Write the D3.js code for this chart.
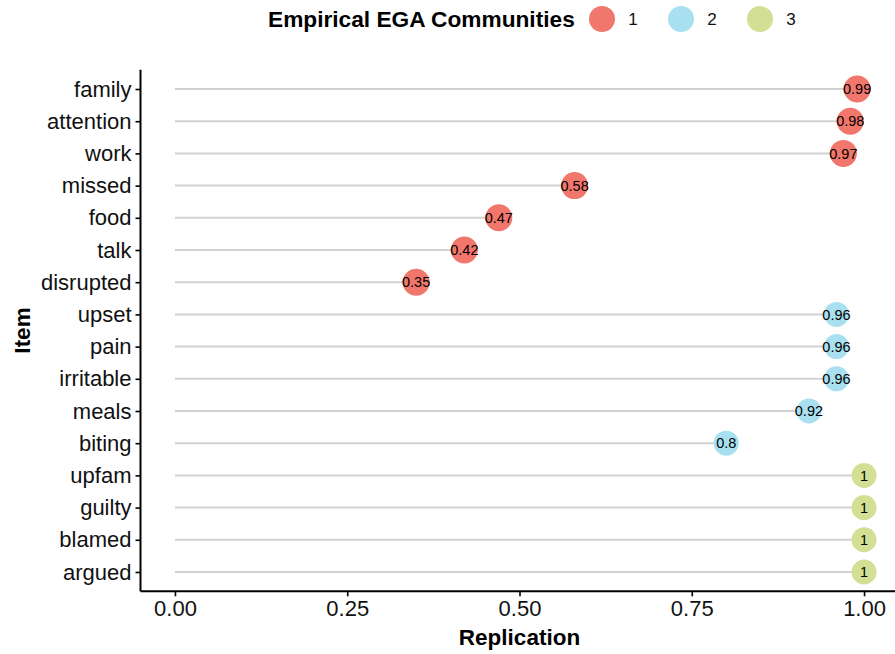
<!DOCTYPE html>
<html>
<head>
<meta charset="utf-8">
<script src="https://cdn.jsdelivr.net/npm/d3@7"></script>
<style>
  html, body { margin: 0; padding: 0; background: #ffffff; }
  svg { display: block; font-family: "Liberation Sans", Arial, sans-serif; }
</style>
</head>
<body>
<svg id="chart" width="895" height="654"></svg>
<script>
// Items, top to bottom
const items = ["family", "attention", "work", "missed", "food", "talk", "disrupted",
  "upset", "pain", "irritable", "meals", "biting",
  "upfam", "guilty", "blamed", "argued"];
// Replication proportion of each item
const replication = [0.99, 0.98, 0.97, 0.58, 0.47, 0.42, 0.35,
  0.96, 0.96, 0.96, 0.92, 0.8,
  1, 1, 1, 1];
// Empirical EGA community of each item
const community = [1, 1, 1, 1, 1, 1, 1, 2, 2, 2, 2, 2, 3, 3, 3, 3];
const communityLevels = [1, 2, 3];
const xTicks = [0, 0.25, 0.5, 0.75, 1];

const rows = items.map((item, i) => ({ item, value: replication[i], comm: community[i] }));

const svg = d3.select("#chart");
const W = 895, H = 654;
const panel = { left: 140.5, right: 898.5, top: 69.7, bottom: 591.3 };

const color = d3.scaleOrdinal()
  .domain(communityLevels)
  .range(["#F1766B", "#A9E0F0", "#D3DF94"]);
const radius = d3.scaleOrdinal().domain(communityLevels).range([13.5, 12.5, 12.5]);

// continuous x with 5% expansion on each side
const x = d3.scaleLinear().domain([-0.05, 1.05]).range([panel.left, panel.right]);
// discrete y with 0.6 band expansion
const y = d3.scalePoint().domain(items).range([panel.top, panel.bottom]).padding(0.6);

// stems
svg.append("g").selectAll("line").data(rows).join("line")
  .attr("x1", x(0)).attr("x2", d => x(d.value))
  .attr("y1", d => y(d.item)).attr("y2", d => y(d.item))
  .attr("stroke", "#D2D2D2").attr("stroke-width", 2);

// dots
svg.append("g").selectAll("circle").data(rows).join("circle")
  .attr("cx", d => x(d.value)).attr("cy", d => y(d.item))
  .attr("r", d => radius(d.comm))
  .attr("fill", d => color(d.comm));

// value labels
svg.append("g").selectAll("text").data(rows).join("text")
  .attr("x", d => x(d.value)).attr("y", d => y(d.item))
  .attr("dy", "0.36em").attr("text-anchor", "middle")
  .attr("font-size", 14.5).attr("fill", "#000")
  .text(d => d3.format("")(d.value));

// axes
const xAxis = svg.append("g")
  .attr("transform", `translate(0,${panel.bottom})`)
  .call(d3.axisBottom(x).tickValues(xTicks).tickFormat(d3.format(".2f")).tickSizeOuter(0).tickSize(5).tickPadding(4));
const yAxis = svg.append("g")
  .attr("transform", `translate(${panel.left},0)`)
  .call(d3.axisLeft(y).tickSizeOuter(0).tickSize(5).tickPadding(4));

[xAxis, yAxis].forEach(g => {
  g.select(".domain").attr("stroke", "#000").attr("stroke-width", 2);
  g.selectAll(".tick line").attr("stroke", "#000").attr("stroke-width", 1.6);
  g.selectAll(".tick text").attr("fill", "#111").attr("font-size", 22)
    .attr("font-family", "'Liberation Sans', Arial, sans-serif");
});
yAxis.select(".domain").attr("d", `M0,${panel.top}V${panel.bottom}`);
xAxis.select(".domain").attr("d", `M${panel.left},0H${W}`);

// axis titles
svg.append("text")
  .attr("x", (panel.left + panel.right) / 2).attr("y", 645)
  .attr("text-anchor", "middle").attr("font-weight", "bold").attr("font-size", 22.5)
  .text("Replication");
svg.append("text")
  .attr("transform", `translate(30,${(panel.top + panel.bottom) / 2}) rotate(-90)`)
  .attr("text-anchor", "middle").attr("font-weight", "bold").attr("font-size", 22.5)
  .text("Item");

// legend
const legend = svg.append("g");
legend.append("text")
  .attr("x", 268).attr("y", 27)
  .attr("font-weight", "bold").attr("font-size", 22.7)
  .text("Empirical EGA Communities");
const keyX = d3.scalePoint().domain(communityLevels).range([602, 760]);
const keys = legend.selectAll("g.key").data(communityLevels).join("g").attr("class", "key");
keys.append("circle")
  .attr("cx", d => keyX(d)).attr("cy", 19).attr("r", 13)
  .attr("fill", d => color(d));
keys.append("text")
  .attr("x", d => keyX(d) + 31).attr("y", 19).attr("dy", "0.36em")
  .attr("text-anchor", "middle").attr("font-size", 17).attr("fill", "#111")
  .text(d => d);
</script>
</body>
</html>
